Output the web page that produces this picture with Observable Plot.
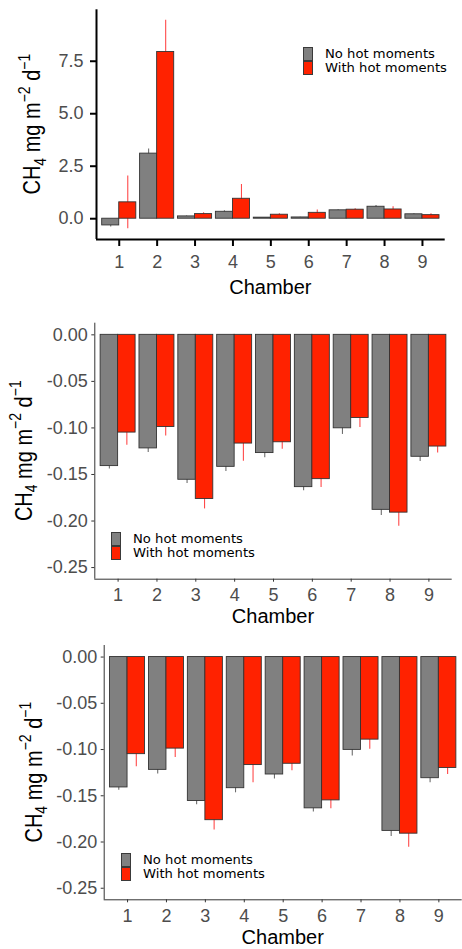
<!DOCTYPE html>
<html>
<head>
<meta charset="utf-8">
<script src="https://cdn.jsdelivr.net/npm/d3@7"></script>
<script src="https://cdn.jsdelivr.net/npm/@observablehq/plot@0.6"></script>
<style>
html, body { margin: 0; padding: 0; background: #fff; }
#root { position: relative; width: 462px; height: 949px; overflow: hidden; font-family: "Liberation Sans", Arial, sans-serif; }
.panel { position: absolute; left: 0; width: 462px; }
.panel svg { display: block; }
.legend { position: absolute; font-family: "DejaVu Sans", sans-serif; font-size: 12.2px; color: #000; }
.legend .row { display: flex; align-items: center; height: 14px; }
.legend .key { width: 10px; height: 14px; box-sizing: border-box; border: 1px solid #3a3a3a; flex: none; }
.legend .lab { margin-left: 12px; white-space: nowrap; line-height: 14px; transform: scaleX(1.08); transform-origin: left center; }
</style>
</head>
<body>
<div id="root"></div>
<script>
// ---------- data ----------
const chambers = [1, 2, 3, 4, 5, 6, 7, 8, 9];
const groups = ["No hot moments", "With hot moments"];
const groupColors = ["#808080", "#ff2200"];
const errColors = ["#6e6e6e", "#ff4a4a"];

// top panel (mean and standard error)
const topNoMean   = [-0.32, 3.10, 0.11, 0.33, 0.05, 0.06, 0.40, 0.57, 0.21];
const topNoSe     = [0.08, 0.22, 0.02, 0.05, 0.01, 0.01, 0.03, 0.06, 0.03];
const topWithMean = [0.78, 7.94, 0.22, 0.95, 0.19, 0.28, 0.43, 0.44, 0.17];
const topWithSe   = [1.26, 1.51, 0.06, 0.68, 0.05, 0.13, 0.04, 0.13, 0.07];
const topYTicks   = [0, 2.5, 5, 7.5];

// middle panel
const midNoMean   = [-0.141, -0.122, -0.1557, -0.1418, -0.127, -0.1636, -0.1004, -0.188, -0.131];
const midNoSe     = [0.003, 0.0044, 0.004, 0.005, 0.005, 0.004, 0.0066, 0.006, 0.005];
const midWithMean = [-0.105, -0.099, -0.1764, -0.1168, -0.1154, -0.155, -0.0893, -0.191, -0.120];
const midWithSe   = [0.0136, 0.0096, 0.0106, 0.019, 0.0076, 0.009, 0.0103, 0.0147, 0.007];
const midYTicks   = [0, -0.05, -0.10, -0.15, -0.20, -0.25];

// bottom panel (same values as the middle one)
const botNoMean   = [-0.141, -0.122, -0.1557, -0.1418, -0.127, -0.1636, -0.1004, -0.188, -0.131];
const botNoSe     = [0.003, 0.0044, 0.004, 0.005, 0.005, 0.004, 0.0066, 0.006, 0.005];
const botWithMean = [-0.105, -0.099, -0.1764, -0.1168, -0.1154, -0.155, -0.0893, -0.191, -0.120];
const botWithSe   = [0.0136, 0.0096, 0.0106, 0.019, 0.0076, 0.009, 0.0103, 0.0147, 0.007];
const botYTicks   = [0, -0.05, -0.10, -0.15, -0.20, -0.25];

const xTickLabels = chambers.map(String);
const xTitle = "Chamber";

// ---------- helpers ----------
const dodge = 0.9;                 // total width of a chamber's pair of bars
const half = dodge / groups.length;

function makeRows(means, ses) {
  const rows = [];
  chambers.forEach((c, i) => {
    groups.forEach((g, gi) => {
      rows.push({chamber: c, group: g, gi, mean: means[gi][i], se: ses[gi][i]});
    });
  });
  return rows;
}

function drawPanel(cfg) {
  const rows = makeRows(cfg.means, cfg.ses);
  const xDomain = [chambers[0] - 0.6, chambers[chambers.length - 1] + 0.6];
  const x1 = d => d.chamber - dodge / 2 + d.gi * half;
  const x2 = d => x1(d) + half;
  const xm = d => x1(d) + half / 2;

  const plot = Plot.plot({
    width: 462,
    height: cfg.height,
    marginTop: cfg.mt, marginBottom: cfg.mb, marginLeft: cfg.ml, marginRight: cfg.mr,
    style: {fontFamily: '"Liberation Sans", Arial, sans-serif', background: "transparent", overflow: "visible"},
    x: {domain: xDomain, axis: null},
    y: {domain: cfg.yDomain, axis: null},
    marks: [
      Plot.ruleX(rows, {x: xm, y1: d => d.mean - d.se, y2: d => d.mean + d.se, stroke: d => errColors[d.gi], strokeWidth: 1.1}),
      Plot.rect(rows, {x1, x2, y1: () => 0, y2: "mean", fill: d => groupColors[d.gi], stroke: "#333333", strokeWidth: 0.9}),
      Plot.ruleY([cfg.yDomain[0]], {stroke: cfg.axisColor, strokeWidth: cfg.axisWidth}),
      Plot.ruleX([xDomain[0]], {stroke: cfg.axisColor, strokeWidth: cfg.axisWidth}),
      Plot.axisX(chambers, {tickFormat: (d, i) => xTickLabels[i], tickSize: cfg.xTickSize, tickPadding: cfg.xTickPad,
        fontSize: 18, stroke: cfg.axisColor, strokeWidth: cfg.axisWidth, fill: "#4d4d4d", label: null}),
      Plot.axisY(cfg.yTicks, {tickFormat: d => d.toFixed(cfg.dec), tickSize: cfg.yTickSize, tickPadding: cfg.yTickPad,
        fontSize: 18, stroke: cfg.axisColor, strokeWidth: cfg.axisWidth, fill: "#4d4d4d", label: null})
    ]
  });

  const svg = d3.select(plot);
  const cy = cfg.mt + (cfg.height - cfg.mt - cfg.mb) / 2;
  const cx = cfg.ml + (462 - cfg.ml - cfg.mr) / 2;

  // x title
  svg.append("text")
    .attr("x", cx).attr("y", cfg.xTitleY)
    .attr("text-anchor", "middle")
    .attr("font-size", 20).attr("fill", "#000")
    .text(xTitle);

  // y title: CH4 mg m-2 d-1
  const t = svg.append("text")
    .attr("transform", `translate(${cfg.yTitleX},${cy}) rotate(-90) scale(1,1.15)`)
    .attr("text-anchor", "middle")
    .attr("font-size", 20).attr("fill", "#000");
  t.append("tspan").text("CH");
  t.append("tspan").attr("font-size", 14).attr("dy", 5).text("4");
  t.append("tspan").attr("dy", -5).text(" mg m");
  t.append("tspan").attr("font-size", 14).attr("dy", -9).text("\u22122");
  t.append("tspan").attr("dy", 9).text(" d");
  t.append("tspan").attr("font-size", 14).attr("dy", -9).text("\u22121");

  const panel = document.createElement("div");
  panel.className = "panel";
  panel.style.top = cfg.top + "px";
  panel.style.height = cfg.height + "px";
  panel.appendChild(plot);

  // legend
  const leg = document.createElement("div");
  leg.className = "legend";
  leg.style.left = cfg.legX + "px";
  leg.style.top = cfg.legY + "px";
  groups.forEach((g, gi) => {
    const row = document.createElement("div");
    row.className = "row";
    const key = document.createElement("div");
    key.className = "key";
    key.style.background = groupColors[gi];
    const lab = document.createElement("div");
    lab.className = "lab";
    lab.textContent = g;
    row.appendChild(key);
    row.appendChild(lab);
    leg.appendChild(row);
  });
  panel.appendChild(leg);
  document.getElementById("root").appendChild(panel);
}

drawPanel({
  top: 0, height: 300, mt: 9.3, mb: 61, ml: 96, mr: 17.3,
  yDomain: [-0.99, 9.95], yTicks: topYTicks, dec: 1,
  means: [topNoMean, topWithMean], ses: [topNoSe, topWithSe],
  axisColor: "#000", axisWidth: 2, xTickSize: 7, xTickPad: 9, yTickSize: 6, yTickPad: 7,
  xTitleY: 294, yTitleX: 40, legX: 302.5, legY: 46.7
});

drawPanel({
  top: 300, height: 328, mt: 22.7, mb: 49.3, ml: 94.3, mr: 10.3,
  yDomain: [-0.2625, 0.0125], yTicks: midYTicks, dec: 2,
  means: [midNoMean, midWithMean], ses: [midNoSe, midWithSe],
  axisColor: "#333", axisWidth: 1, xTickSize: 3, xTickPad: 6, yTickSize: 3, yTickPad: 4,
  xTitleY: 323, yTitleX: 31.7, legX: 111.3, legY: 232.3
});

drawPanel({
  top: 628, height: 321, mt: 17, mb: 49.7, ml: 103.7, mr: 0.3,
  yDomain: [-0.2625, 0.0125], yTicks: botYTicks, dec: 2,
  means: [botNoMean, botWithMean], ses: [botNoSe, botWithSe],
  axisColor: "#333", axisWidth: 1, xTickSize: 3, xTickPad: 6, yTickSize: 3, yTickPad: 4,
  xTitleY: 316, yTitleX: 41.7, legX: 121, legY: 225.3
});
</script>
</body>
</html>
